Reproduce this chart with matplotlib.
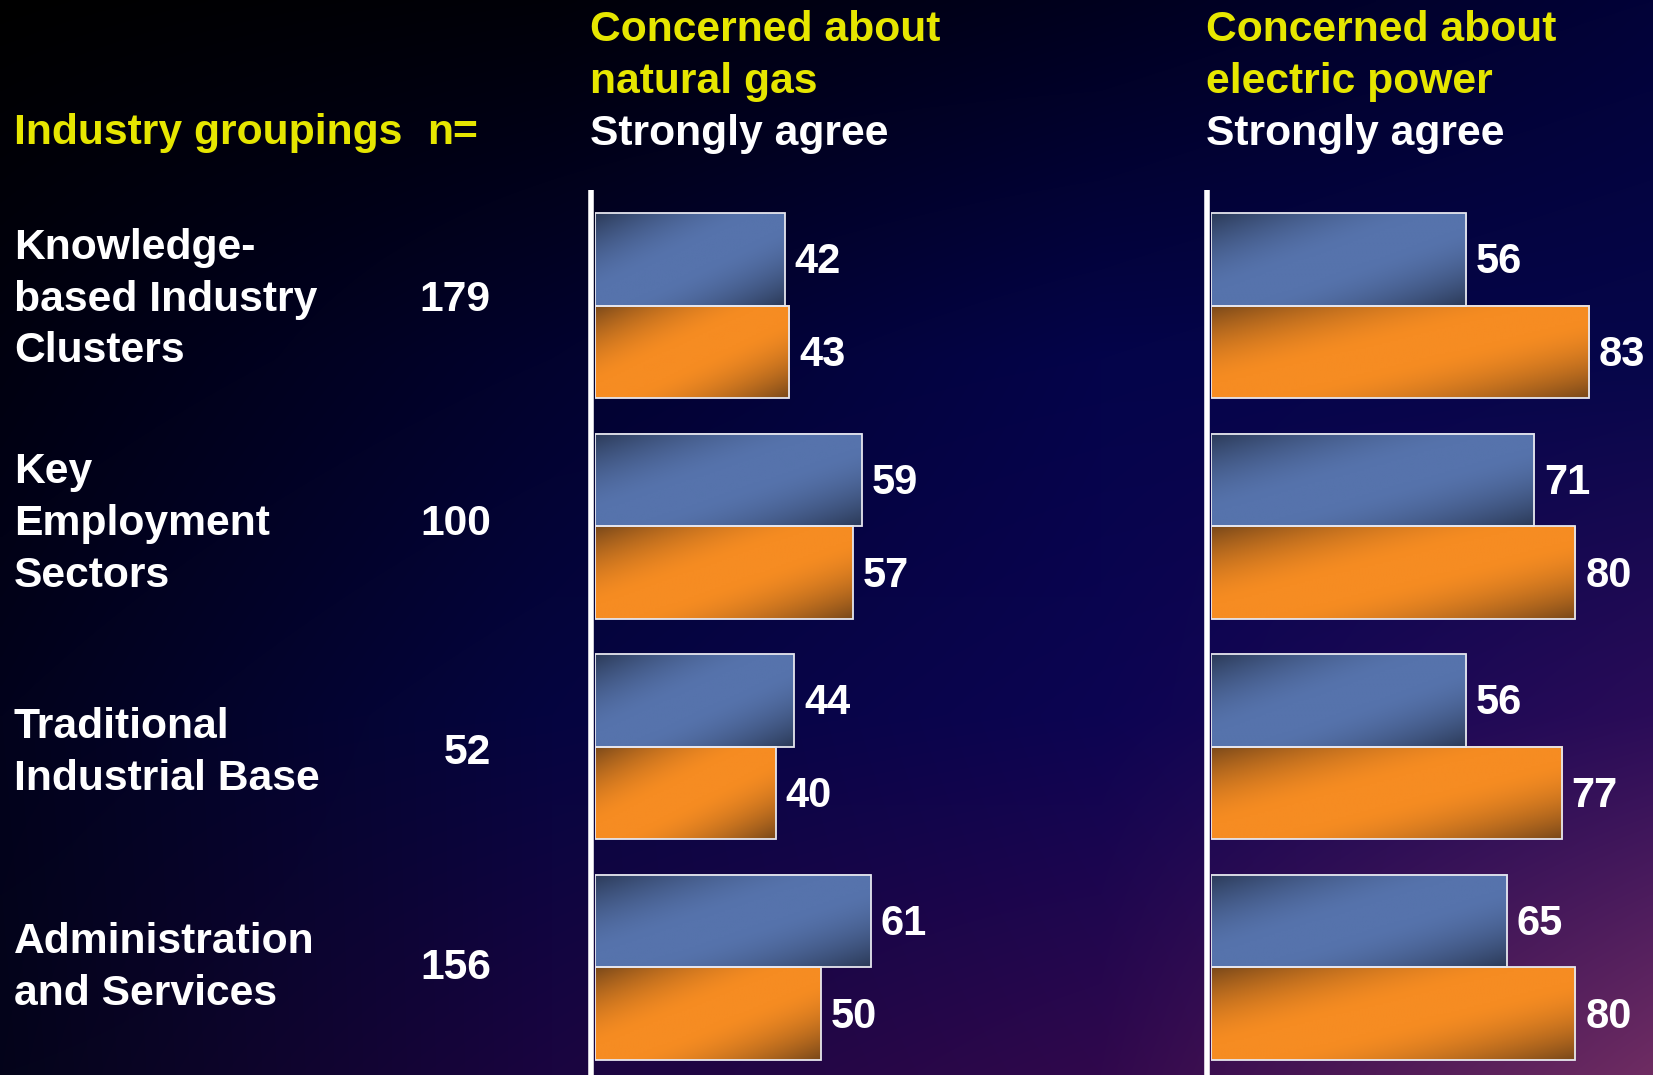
import matplotlib
matplotlib.use("Agg")
import matplotlib.pyplot as plt
import matplotlib.transforms as mtransforms
import numpy as np

plt.rcParams['font.family'] = ['Liberation Sans', 'DejaVu Sans']
plt.rcParams['font.weight'] = 'bold'

# --------------- data ---------------
groups = [
    "Knowledge-\nbased Industry\nClusters",
    "Key\nEmployment\nSectors",
    "Traditional\nIndustrial Base",
    "Administration\nand Services",
]
n_values = [179, 100, 52, 156]
gas_blue = [42, 59, 44, 61]
gas_orange = [43, 57, 40, 50]
power_blue = [56, 71, 56, 65]
power_orange = [83, 80, 77, 80]

header_left = ["Industry groupings", "n="]
gas_title = ["Concerned about", "natural gas", "Strongly agree"]
power_title = ["Concerned about", "electric power", "Strongly agree"]

# small vertical nudges (pixels) for the row labels
label_nudge_px = [-6, -2, 6, 1]

YELLOW = "#e6e600"
WHITE = "#ffffff"
BLUE_LIGHT, BLUE_DARK = "#5673ac", "#27344f"
ORANGE_LIGHT, ORANGE_DARK = "#f68c22", "#6c4119"

W_PX, H_PX = 1653, 1075
fig = plt.figure(figsize=(W_PX / 100, H_PX / 100), dpi=100)


def fx(px):
    return px / W_PX


def fy(py):
    return 1 - py / H_PX


def hex_rgb(c):
    c = c.lstrip("#")
    return np.array([int(c[i:i + 2], 16) for i in (0, 2, 4)]) / 255.0


# --------------- background ---------------
grid = [
    ["#000000", "#000008", "#00001e", "#020238"],
    ["#000010", "#02022e", "#04044a", "#06064a"],
    ["#02021c", "#050540", "#0c0452", "#2a0c58"],
    ["#04041a", "#1a0540", "#30084c", "#6e2c62"],
]
ctrl = np.array([[hex_rgb(c) for c in row] for row in grid])
knots = np.linspace(0, 1, 4)
gx = np.linspace(0, 1, 400)
gy = np.linspace(0, 1, 300)
rows = np.stack([np.stack([np.interp(gx, knots, ctrl[r, :, k]) for k in range(3)], -1)
                 for r in range(4)])
bg = np.stack([np.stack([np.interp(gy, knots, rows[:, i, k]) for i in range(len(gx))], -1)
               for k in range(3)], -1)

ax_bg = fig.add_axes([0, 0, 1, 1], zorder=0)
ax_bg.imshow(bg, extent=[0, 1, 0, 1], aspect="auto", interpolation="bilinear")
ax_bg.set_xlim(0, 1)
ax_bg.set_ylim(0, 1)
ax_bg.axis("off")


def gradient(light, dark, h=48, w=192):
    u = np.linspace(0, 1, w)[None, :]
    v = np.linspace(0, 1, h)[:, None]
    s = np.abs(u + v - 1)
    t = 0.9 * np.clip((s - 0.15) / 0.85, 0, 1) ** 1.6
    lo, hi = hex_rgb(light), hex_rgb(dark)
    return lo * (1 - t[..., None]) + hi * t[..., None]


def shaded_bars(ax, pos, values, height, light, dark):
    bars = ax.barh(pos, values, height=height, color="none",
                   edgecolor="#e6e6ee", linewidth=1.3, zorder=3)
    img = gradient(light, dark)
    for p in bars:
        x0, y0, w, h = p.get_x(), p.get_y(), p.get_width(), p.get_height()
        ax.imshow(img, extent=[x0, x0 + w, y0 + h, y0], aspect="auto",
                  interpolation="bilinear", zorder=2)


# --------------- panels ---------------
Y_TOP, Y_BOT = 190, H_PX
CENTER0, STEP = 305.7, 220.5
ylim = ((Y_BOT - CENTER0) / STEP, (Y_TOP - CENTER0) / STEP)
BAR_H = 0.42
ypos = np.arange(len(groups))

panels = [
    (595.0, 4.52, gas_blue, gas_orange),
    (1210.5, 4.56, power_blue, power_orange),
]
axes = []
for left_px, scale, blue, orange in panels:
    width_px = W_PX - left_px if left_px > 1000 else 452
    ax = fig.add_axes([fx(left_px), 0, fx(width_px), 1 - Y_TOP / H_PX], zorder=2)
    ax.patch.set_alpha(0)
    shaded_bars(ax, ypos - BAR_H / 2, blue, BAR_H, BLUE_LIGHT, BLUE_DARK)
    shaded_bars(ax, ypos + BAR_H / 2, orange, BAR_H, ORANGE_LIGHT, ORANGE_DARK)
    for vals, off in ((blue, -BAR_H / 2), (orange, BAR_H / 2)):
        for y, v in zip(ypos, vals):
            ax.text(v + 10 / scale, y + off + 3 / STEP, str(v), color=WHITE,
                    fontsize=30, fontweight="bold", ha="left", va="center", zorder=4)
    ax.plot([-4 / scale, -4 / scale], list(ylim), color=WHITE, lw=4,
            solid_capstyle="butt", clip_on=False, zorder=4)
    ax.set_xlim(0, width_px / scale)
    ax.set_ylim(*ylim)
    ax.axis("off")
    axes.append(ax)

# --------------- headers ---------------
fig.text(fx(14), fy(133), header_left[0], color=YELLOW, fontsize=30.7,
         fontweight="bold", ha="left", va="center")
fig.text(fx(427), fy(133), header_left[1], color=YELLOW, fontsize=30.7,
         fontweight="bold", ha="left", va="center")
for x_px, lines in ((590, gas_title), (1206, power_title)):
    for i, line in enumerate(lines):
        fig.text(fx(x_px), fy(30 + 52 * i), line, color=YELLOW if i < 2 else WHITE,
                 fontsize=30.7, fontweight="bold", ha="left", va="center")

# --------------- group labels ---------------
trans = mtransforms.blended_transform_factory(fig.transFigure, axes[0].transData)
for y, label, n, dpx in zip(ypos, groups, n_values, label_nudge_px):
    yy = y + dpx / STEP
    fig.text(fx(14), yy, label, transform=trans, color=WHITE, fontsize=30.7,
             fontweight="bold", ha="left", va="center", linespacing=1.38)
    fig.text(fx(491), yy, str(n), transform=trans, color=WHITE, fontsize=30.7,
             fontweight="bold", ha="right", va="center")

fig.savefig("out.png", dpi=100)
